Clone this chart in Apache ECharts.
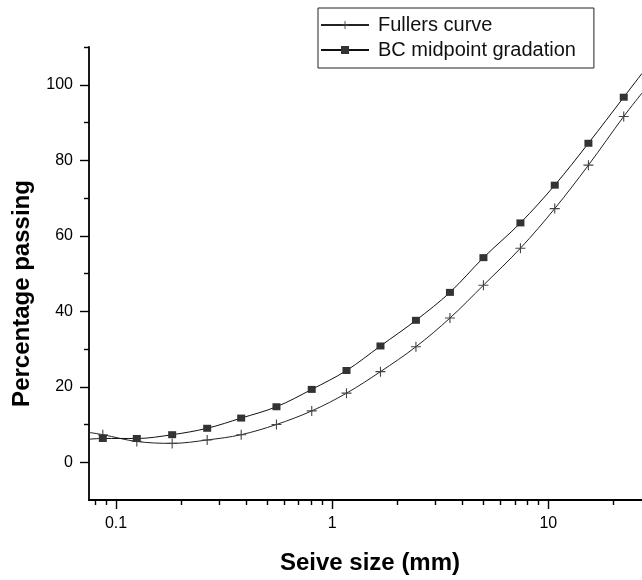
<!DOCTYPE html>
<html>
<head>
<meta charset="utf-8">
<script src="https://cdn.jsdelivr.net/npm/echarts@6/dist/echarts.min.js"></script>
<style>html,body{margin:0;padding:0;background:#fff;}#c{width:642px;height:580px;}</style>
</head>
<body>
<div id="c"></div>
<script>
// Sieve sizes (mm), plus the curve ends at the plot edges
var sieveSizes = [0.075, 0.0869, 0.1248, 0.1819, 0.2641, 0.3794, 0.5525, 0.8045, 1.165, 1.673, 2.441, 3.507, 5.01, 7.43, 10.71, 15.33, 22.33, 27.13];
var fullerValues = [7.9, 7.3, 5.5, 5.0, 5.9, 7.3, 10.0, 13.6, 18.3, 24.0, 30.6, 38.2, 46.9, 56.7, 67.2, 78.7, 91.6, 97.8];
var bcValues = [6.1, 6.3, 6.3, 7.3, 9.0, 11.7, 14.7, 19.3, 24.3, 30.8, 37.6, 45.0, 54.2, 63.4, 73.4, 84.5, 96.7, 103.0];
// first and last entries are curve ends only (no marker)
var markerShown = [false, true, true, true, true, true, true, true, true, true, true, true, true, true, true, true, true, false];
var seriesNames = ['Fullers curve', 'BC midpoint gradation'];
var xMajorTicks = [0.1, 1, 10];
var xMinorTicks = [0.08, 0.09, 0.2, 0.3, 0.4, 0.5, 0.6, 0.7, 0.8, 0.9, 2, 3, 4, 5, 6, 7, 8, 9, 20];
var yMajorTicks = [0, 20, 40, 60, 80, 100];
var yMinorTicks = [10, 30, 50, 70, 90, 110];

function buildData(vals) {
  return sieveSizes.map(function (x, i) {
    var item = { value: [x, vals[i]] };
    if (!markerShown[i]) item.symbol = 'none';
    return item;
  });
}

var FONT = 'Liberation Sans, Arial, sans-serif';
var plusPath = 'path://M4,0 H5 V4 H9 V5 H5 V9 H4 V5 H0 V4 H4 Z';

var chart = echarts.init(document.getElementById('c'), null, { renderer: 'canvas' });
chart.setOption({
  animation: false,
  backgroundColor: '#fff',
  textStyle: { fontFamily: FONT },
  grid: { left: 89, top: 47, right: 0, bottom: 76.5, containLabel: false },
  legend: {
    orient: 'vertical',
    left: 318, top: 8,
    padding: [7, 18, 8, 2],
    itemWidth: 48, itemHeight: 10, itemGap: 5,
    borderColor: '#222', borderWidth: 1,
    textStyle: { fontFamily: FONT, fontSize: 20, color: '#111', padding: [0, 0, 0, 4] },
    data: seriesNames
  },
  xAxis: [{
    type: 'log', logBase: 10, min: 0.075, max: 27.13,
    position: 'bottom',
    name: 'Seive size (mm)', nameLocation: 'middle', nameGap: 51,
    nameTextStyle: { fontFamily: FONT, fontSize: 24, fontWeight: 'bold', color: '#000', padding: [0, 0, 0, 9] },
    axisLine: { show: true, onZero: false, lineStyle: { color: '#000', width: 1.8 } },
    axisTick: { show: true, inside: false, length: 9, lineStyle: { color: '#000', width: 1.4 }, customValues: xMajorTicks },
    axisLabel: { show: true, margin: 16, fontSize: 16, color: '#000', fontFamily: FONT, customValues: xMajorTicks,
      formatter: function (v) { return String(Math.round(v * 1000) / 1000); } },
    splitLine: { show: false }, minorTick: { show: false }
  }, {
    type: 'log', logBase: 10, min: 0.075, max: 27.13,
    position: 'bottom',
    axisLine: { show: false, onZero: false },
    axisTick: { show: true, inside: false, length: 5, lineStyle: { color: '#000', width: 1.4 }, customValues: xMinorTicks },
    axisLabel: { show: false },
    splitLine: { show: false }
  }],
  yAxis: [{
    type: 'value', min: -10, max: 110,
    name: 'Percentage passing', nameLocation: 'middle', nameGap: 55,
    nameTextStyle: { fontFamily: FONT, fontSize: 24, fontWeight: 'bold', color: '#000', padding: [0, 40, 0, 0] },
    axisLine: { show: true, onZero: false, lineStyle: { color: '#000', width: 1.8 } },
    axisTick: { show: true, inside: false, length: 9, lineStyle: { color: '#000', width: 1.4 }, customValues: yMajorTicks },
    axisLabel: { show: true, margin: 16, fontSize: 16, color: '#000', fontFamily: FONT, customValues: yMajorTicks },
    splitLine: { show: false }
  }, {
    type: 'value', min: -10, max: 110, position: 'left',
    axisLine: { show: false, onZero: false },
    axisTick: { show: true, inside: false, length: 5, lineStyle: { color: '#000', width: 1.4 }, customValues: yMinorTicks },
    axisLabel: { show: false },
    splitLine: { show: false }
  }],
  series: [{
    name: seriesNames[0], type: 'line', xAxisIndex: 0, yAxisIndex: 0,
    smooth: 0.35,
    symbol: plusPath, symbolSize: 10,
    showAllSymbol: true,
    lineStyle: { color: '#222', width: 1 },
    itemStyle: { color: '#444' },
    data: buildData(fullerValues)
  }, {
    name: seriesNames[1], type: 'line', xAxisIndex: 0, yAxisIndex: 0,
    smooth: 0.35,
    symbol: 'rect', symbolSize: [8, 7],
    showAllSymbol: true,
    lineStyle: { color: '#111', width: 1 },
    itemStyle: { color: '#333' },
    data: buildData(bcValues)
  }]
});
</script>
</body>
</html>
